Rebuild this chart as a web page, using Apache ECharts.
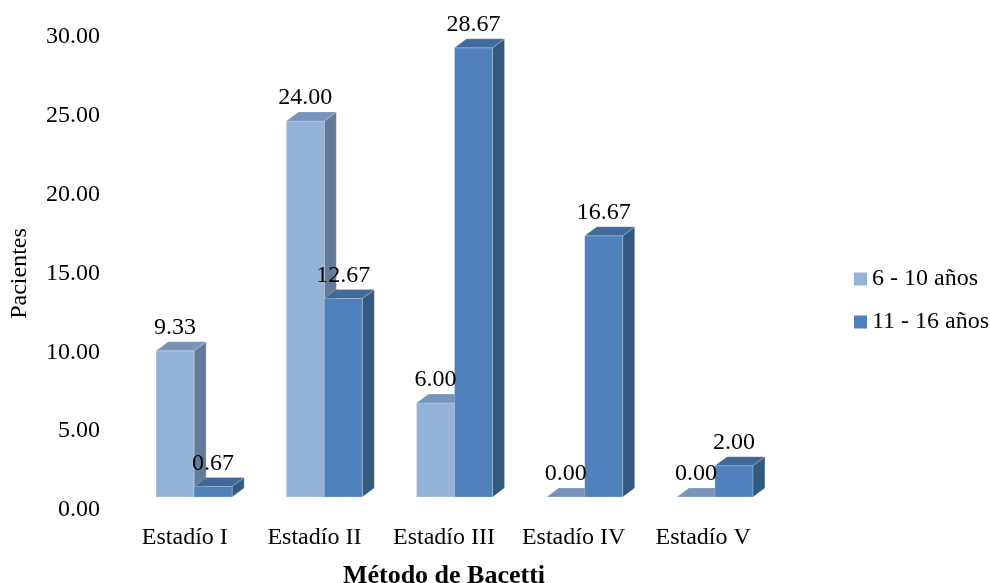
<!DOCTYPE html>
<html>
<head>
<meta charset="utf-8">
<title>Método de Bacetti</title>
<script src="https://cdn.jsdelivr.net/npm/echarts@6/dist/echarts.min.js"></script>
<style>
  html, body { margin: 0; padding: 0; background: #ffffff; }
  #chart { width: 990px; height: 583px; }
</style>
</head>
<body>
<div id="chart"></div>
<script>
// Categories and values (patients per stage, by age group)
const categories = ['Estadío I', 'Estadío II', 'Estadío III', 'Estadío IV', 'Estadío V'];
const seriesNames = ['6 - 10 años', '11 - 16 años'];
const youngerGroup = [9.33, 24.00, 6.00, 0.00, 0.00];
const olderGroup = [0.67, 12.67, 28.67, 16.67, 2.00];
const yTickStep = 5;
const yMax = 30;

// Face colours for the pseudo-3D columns: front, side, top
const palettes = [
  { front: '#95B3D7', side: '#637A98', top: '#7693BA' },
  { front: '#4F81BD', side: '#34597F', top: '#3F6A99' }
];

const FONT = '"Liberation Serif", "Times New Roman", serif';
const DEPTH_X = 12;
const DEPTH_Y = 9;

// Builds a renderItem that draws a column as front face + side + top,
// placed left (side 0) or right (side 1) of the category centre.
function columnRenderer(side, pal) {
  return function (params, api) {
    const idx = api.value(0);
    const v = api.value(1);
    const base = api.coord([idx, 0]);
    const top = api.coord([idx, v]);
    const band = api.size([1, 0])[0];
    const w = band * 0.292;
    const x0 = side === 0 ? base[0] - w : base[0];
    const x1 = x0 + w;
    const yb = base[1];
    const yt = top[1];
    const edge = { stroke: 'rgba(255,255,255,0.35)', lineWidth: 0.6 };
    return {
      type: 'group',
      children: [
        {
          type: 'polygon',
          shape: { points: [[x1, yt], [x1 + DEPTH_X, yt - DEPTH_Y], [x1 + DEPTH_X, yb - DEPTH_Y], [x1, yb]] },
          style: Object.assign({ fill: pal.side }, edge)
        },
        {
          type: 'rect',
          shape: { x: x0, y: yt, width: w, height: yb - yt },
          style: Object.assign({ fill: pal.front }, edge)
        },
        {
          type: 'polygon',
          shape: { points: [[x0, yt], [x0 + DEPTH_X, yt - DEPTH_Y], [x1 + DEPTH_X, yt - DEPTH_Y], [x1, yt]] },
          style: Object.assign({ fill: pal.top }, edge)
        },
        {
          type: 'text',
          z2: 100,
          style: {
            text: v.toFixed(2),
            x: (x0 + x1) / 2,
            y: yt - 23,
            align: 'center',
            verticalAlign: 'middle',
            fill: '#000000',
            font: '24px ' + FONT
          }
        }
      ]
    };
  };
}

function toData(values) {
  return values.map(function (v, i) { return [i, v]; });
}

const chart = echarts.init(document.getElementById('chart'), null, { renderer: 'canvas' });

chart.setOption({
  backgroundColor: '#ffffff',
  animation: false,
  textStyle: { fontFamily: FONT },
  legend: {
    orient: 'vertical',
    left: 849,
    top: 262,
    itemWidth: 13,
    itemHeight: 13,
    itemGap: 19,
    icon: 'rect',
    textStyle: { fontFamily: FONT, fontSize: 24, color: '#000000', lineHeight: 24 },
    data: seriesNames
  },
  grid: [
    // grid holding the visible value/category axes
    { left: 120, top: 37, width: 648, bottom: 73, outerBoundsMode: 'none' },
    // grid where the columns are drawn (front plane)
    { left: 129, top: 27, width: 651, bottom: 86, outerBoundsMode: 'none' }
  ],
  xAxis: [
    {
      gridIndex: 0,
      type: 'category',
      data: categories,
      axisLine: { show: false },
      axisTick: { show: false },
      axisLabel: { fontFamily: FONT, fontSize: 24, color: '#000000', margin: 16, interval: 0 },
      name: 'Método de Bacetti',
      nameLocation: 'middle',
      nameGap: 53,
      nameMoveOverlap: false,
      nameTextStyle: { fontFamily: FONT, fontSize: 26, fontWeight: 'bold', color: '#000000' }
    },
    {
      gridIndex: 1,
      type: 'category',
      data: categories,
      show: false
    }
  ],
  yAxis: [
    {
      gridIndex: 0,
      type: 'value',
      min: 0,
      max: yMax,
      interval: yTickStep,
      axisLine: { show: false },
      axisTick: { show: false },
      splitLine: { show: false },
      axisLabel: {
        fontFamily: FONT, fontSize: 24, color: '#000000', margin: 20,
        formatter: function (v) { return v.toFixed(2); }
      },
      name: 'Pacientes',
      nameLocation: 'middle',
      nameRotate: 90,
      nameGap: 88,
      nameMoveOverlap: false,
      nameTextStyle: { fontFamily: FONT, fontSize: 24, color: '#000000' }
    },
    {
      gridIndex: 1,
      type: 'value',
      min: 0,
      max: yMax,
      show: false
    }
  ],
  series: [
    {
      name: seriesNames[0],
      type: 'custom',
      xAxisIndex: 1,
      yAxisIndex: 1,
      itemStyle: { color: palettes[0].front },
      renderItem: columnRenderer(0, palettes[0]),
      encode: { x: 0, y: 1 },
      data: toData(youngerGroup)
    },
    {
      name: seriesNames[1],
      type: 'custom',
      xAxisIndex: 1,
      yAxisIndex: 1,
      itemStyle: { color: palettes[1].front },
      renderItem: columnRenderer(1, palettes[1]),
      encode: { x: 0, y: 1 },
      data: toData(olderGroup)
    }
  ]
});
</script>
</body>
</html>
